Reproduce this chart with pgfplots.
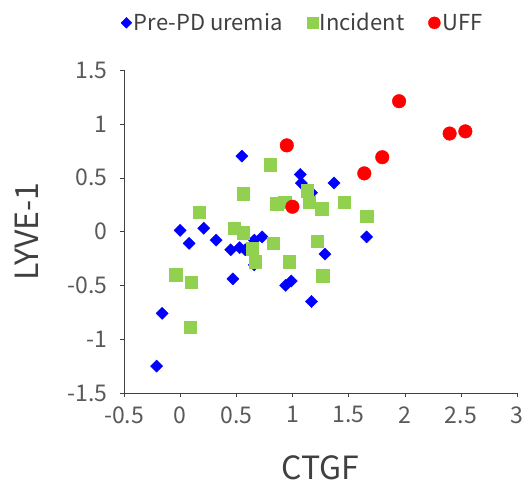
\documentclass[border=0pt]{standalone}
\usepackage{fontspec}
\setmainfont{Noto Sans CJK JP}
\usepackage{pgfplots}
\pgfplotsset{compat=1.18}
\usetikzlibrary{calc}
\definecolor{cblue}{RGB}{0,0,255}
\definecolor{cgreen}{RGB}{146,208,80}
\definecolor{cred}{RGB}{255,0,0}
\definecolor{ctick}{RGB}{89,89,89}
\definecolor{caxis}{RGB}{64,64,64}
\begin{document}
\begin{tikzpicture}
\begin{axis}[
  scale only axis,
  width=393pt, height=323pt,
  xmin=-0.5, xmax=3, ymin=-1.5, ymax=1.5,
  axis lines=left,
  axis line style={caxis, -},
  xtick={-0.5,0,0.5,1,1.5,2,2.5,3},
  ytick={-1.5,-1,-0.5,0,0.5,1,1.5},
  tick align=outside,
  major tick length=4pt,
  tick style={caxis},
  /pgf/number format/assume math mode=true,
  /pgf/number format/fixed,
  ticklabel style={font=\fontsize{23}{26}\selectfont, text=ctick},
  yticklabel style={xshift=-9pt},
  xticklabel style={yshift=-6pt},
  xlabel={CTGF}, ylabel={LYVE-1},
  label style={font=\fontsize{32}{37}\selectfont, text=caxis},
  xlabel style={at={(rel axis cs:0.5,-0.232)}, anchor=center},
  ylabel style={at={(rel axis cs:-0.247,0.5)}, anchor=center},
  clip=false,
  legend columns=3,
  legend style={draw=none, fill=none, at={(rel axis cs:0.455,1.146)}, anchor=center,
    font=\fontsize{22}{26}\selectfont, text=caxis,
    /tikz/every even column/.append style={column sep=22pt}},
  legend cell align=left,
]
\addlegendimage{legend image code/.code={\draw[only marks, mark=square*, mark size=3.8pt, mark options={rotate=45, fill=cblue, draw=cblue}] plot coordinates {(0pt,0pt)};}}
\addlegendentry{Pre-PD uremia}
\addlegendimage{legend image code/.code={\draw[only marks, mark=square*, mark size=5.5pt, mark options={fill=cgreen, draw=cgreen}] plot coordinates {(0pt,0pt)};}}
\addlegendentry{Incident}
\addlegendimage{legend image code/.code={\draw[only marks, mark=*, mark size=6pt, mark options={fill=cred, draw=cred}] plot coordinates {(0pt,0pt)};}}
\addlegendentry{UFF}
\addplot[forget plot, only marks, mark=square*, mark size=4.3pt, mark options={rotate=45, fill=cblue, draw=cblue}] coordinates {
(-0.21,-1.25) (-0.16,-0.76) (0.0,0.01) (0.08,-0.11) (0.21,0.03) (0.32,-0.08)
(0.45,-0.17) (0.47,-0.44) (0.55,0.70) (0.53,-0.15) (0.58,-0.17) (0.66,-0.08)
(0.66,-0.31) (0.73,-0.05) (0.94,-0.50) (0.99,-0.46) (1.08,0.45) (1.07,0.53)
(1.17,0.36) (1.17,-0.65) (1.29,-0.21) (1.37,0.45) (1.66,-0.05)
};
\addplot[forget plot, only marks, mark=square*, mark size=6.2pt, mark options={fill=cgreen, draw=cgreen}] coordinates {
(-0.04,-0.40) (0.10,-0.47) (0.09,-0.89) (0.17,0.18) (0.48,0.03) (0.56,0.35)
(0.56,-0.01) (0.64,-0.16) (0.67,-0.28) (0.80,0.62) (0.83,-0.11) (0.86,0.26)
(0.93,0.27) (0.97,-0.28) (1.13,0.38) (1.15,0.27) (1.22,-0.09) (1.26,0.21)
(1.27,-0.41) (1.46,0.27) (1.66,0.14)
};
\addplot[forget plot, only marks, mark=*, mark size=6.8pt, mark options={fill=cred, draw=cred}] coordinates {
(0.95,0.80) (1.00,0.23) (1.64,0.54) (1.80,0.69) (1.95,1.21) (2.40,0.91) (2.54,0.93)
};
\end{axis}
\pgfresetboundingbox
\path ($(current axis.south west)+(-124pt,-89pt)$) rectangle ($(current axis.north east)+(13pt,70pt)$);
\end{tikzpicture}
\end{document}
